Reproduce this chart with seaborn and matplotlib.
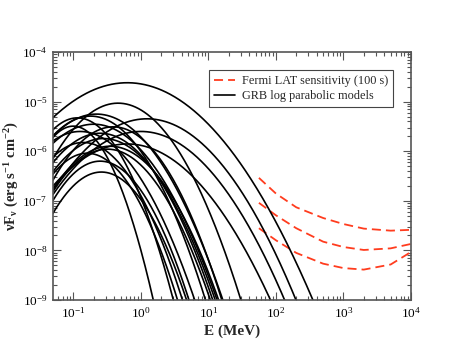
import numpy as np
import pandas as pd
import matplotlib
matplotlib.use("Agg")
import matplotlib.pyplot as plt
import seaborn as sns
from matplotlib.ticker import FixedLocator, LogFormatterMathtext, NullFormatter

# ---- GRB log-parabolic models: peak energy (MeV), peak nuFnu, curvature ----
grb_peak_energy = [0.63, 1.23, 0.46, 0.63, 1.00, 0.18, 0.115, 0.39, 0.25, 0.14,
                   0.16, 0.26, 0.32, 0.35, 0.20, 0.28, 0.22, 0.126, 0.25, 0.10]
grb_peak_flux = [2.4e-5, 4.5e-6, 9.3e-6, 1.4e-6, 2.5e-6, 5.1e-6, 4.7e-6, 3.1e-6, 2.3e-6, 1.5e-6,
                 9.1e-7, 3.8e-7, 1.1e-6, 1.26e-6, 3.5e-6, 1.8e-6, 5.6e-6, 2.5e-6, 6.3e-7, 3.2e-6]
grb_curvature = [0.58, 0.75, 1.20, 0.70, 0.75, 1.28, 1.82, 1.35, 1.21, 1.47,
                 1.65, 1.62, 1.31, 1.20, 1.06, 1.19, 1.07, 1.18, 1.62, 2.50]

# ---- Fermi LAT sensitivity (100 s), three curves ----
lat_energy = [56, 100, 200, 500, 1000, 2000, 5000, 10000]
lat_top = [2.9e-7, 1.4e-7, 7.4e-8, 4.5e-8, 3.4e-8, 2.75e-8, 2.5e-8, 2.6e-8]
lat_mid = [9.1e-8, 5.1e-8, 2.8e-8, 1.5e-8, 1.17e-8, 1.02e-8, 1.1e-8, 1.35e-8]
lat_bot = [2.8e-8, 1.6e-8, 8.9e-9, 5.4e-9, 4.4e-9, 4.1e-9, 5.2e-9, 9.3e-9]

x_ticks = [1e-1, 1e0, 1e1, 1e2, 1e3, 1e4]
y_ticks = [1e-9, 1e-8, 1e-7, 1e-6, 1e-5, 1e-4]

sns.set_style("ticks")
plt.rcParams['font.family'] = ['Liberation Serif', 'DejaVu Serif']
plt.rcParams['mathtext.fontset'] = 'custom'
plt.rcParams['mathtext.rm'] = 'Liberation Serif'
plt.rcParams['mathtext.it'] = 'Liberation Serif:italic'
plt.rcParams['mathtext.bf'] = 'Liberation Serif:bold'

fig = plt.figure(figsize=(4.63, 3.54), dpi=100)
ax = fig.add_axes([53/463, 1-300/354, (411-53)/463, (300-52)/354])

E = np.logspace(np.log10(0.05), 4, 600)
rows = []
for i, (ep, fp, b) in enumerate(zip(grb_peak_energy, grb_peak_flux, grb_curvature)):
    logf = np.log10(fp) - b * (np.log10(E) - np.log10(ep)) ** 2
    rows.append(pd.DataFrame({"E": E, "F": 10 ** logf, "model": i}))
grb = pd.concat(rows)
grb = grb[grb["F"] > 3e-10]

red = "#ff3c1e"
for k, vals in enumerate([lat_top, lat_mid, lat_bot]):
    d = pd.DataFrame({"E": lat_energy, "F": vals})
    sns.lineplot(data=d, x="E", y="F", ax=ax, color=red, lw=1.3,
                 dashes=False, linestyle=(0, (5, 2.8)), sort=False,
                 label="Fermi LAT sensitivity (100 s)" if k == 0 else None)

for i, (m, d) in enumerate(grb.groupby("model")):
    sns.lineplot(data=d, x="E", y="F", ax=ax, color="black", lw=1.2, sort=False,
                 label="GRB log parabolic models" if i == 0 else None)

ax.set_xscale("log")
ax.set_yscale("log")
ax.set_xlim(0.05, 1e4)
ax.set_ylim(1e-9, 1e-4)

def minors(lo, hi):
    out = []
    for e in range(int(np.floor(np.log10(lo))), int(np.ceil(np.log10(hi))) + 1):
        for m in range(2, 10):
            v = m * 10.0 ** e
            if lo < v < hi:
                out.append(v)
    return out

ax.xaxis.set_major_locator(FixedLocator(x_ticks))
ax.yaxis.set_major_locator(FixedLocator(y_ticks))
ax.xaxis.set_minor_locator(FixedLocator(minors(0.05, 1e4)))
ax.yaxis.set_minor_locator(FixedLocator(minors(1e-9, 1e-4)))
for axis in (ax.xaxis, ax.yaxis):
    axis.set_major_formatter(LogFormatterMathtext())
    axis.set_minor_formatter(NullFormatter())

ax.tick_params(which="both", direction="in", top=True, right=True, colors="#555555",
               labelcolor="black", labelsize=9.5)
ax.tick_params(which="major", length=6, width=0.8, pad=4)
ax.tick_params(which="minor", length=3, width=0.8)
for s in ax.spines.values():
    s.set_color("#555555")
    s.set_linewidth(1.2)

ax.set_xlabel("E (MeV)", fontsize=11, fontweight="bold", labelpad=3)
ax.set_ylabel(r"$\mathbf{\nu F_{\nu}}$ (erg s$^{\mathbf{-1}}$ cm$^{\mathbf{-2}}$)", fontsize=10.5,
              fontweight="bold", labelpad=1)

leg = ax.legend(loc="upper right", bbox_to_anchor=(0.95, 0.927), borderaxespad=0,
                fontsize=8.8, frameon=True, fancybox=False, framealpha=1,
                edgecolor="#444444", handlelength=1.7, borderpad=0.4,
                labelspacing=0.25, handletextpad=0.6)
leg.get_frame().set_linewidth(0.8)

fig.savefig("out.png", dpi=100)
